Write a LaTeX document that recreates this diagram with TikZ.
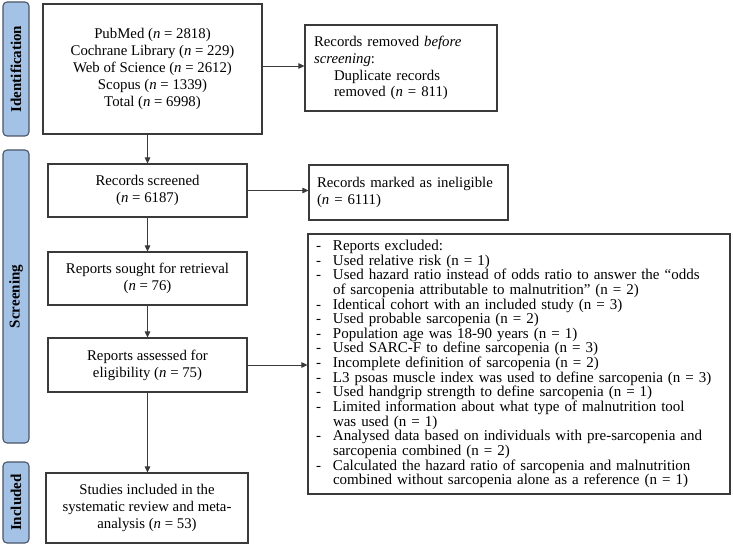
\documentclass[tikz,border=0pt]{standalone}
\usepackage{fontspec}
\setmainfont{Liberation Serif}
\usetikzlibrary{arrows.meta}
\definecolor{boxgray}{HTML}{3A3A3A}
\definecolor{phaseblue}{HTML}{A4C2E6}
\definecolor{phaseline}{HTML}{4A5568}
\begin{document}
\begin{tikzpicture}[x=1pt,y=-1pt,
  box/.style={draw=boxgray, line width=1.1pt, fill=white, inner sep=0pt, align=center,
    font=\fontsize{14.8}{16.8}\selectfont},
  phase/.style={draw=phaseline, line width=1.1pt, fill=phaseblue, rounded corners=4pt,
    minimum width=26pt, inner sep=0pt, rotate=90, font=\fontsize{15}{17}\selectfont\bfseries},
  arr/.style={draw=boxgray, line width=0.9pt, -{Triangle[length=6pt,width=5.5pt]}}]
\useasboundingbox (0,0) rectangle (733,545);
\fill[white] (0,0) rectangle (733,545);
% phases
\node[phase, minimum width=134pt, minimum height=26pt] (pid) at (16,69) {Identification};
\node[phase, minimum width=293pt, minimum height=26pt] (psc) at (16,296.5) {Screening};
\node[phase, minimum width=81pt, minimum height=26pt] (pin) at (16,502.5) {Included};
% boxes
\node[box, minimum width=219pt, minimum height=130pt, font=\fontsize{14.8}{17}\selectfont] (top) at (152.5,69)
  {PubMed (\textit{n} = 2818)\\Cochrane Library (\textit{n} = 229)\\Web of Science (\textit{n} = 2612)\\Scopus (\textit{n} = 1339)\\Total (\textit{n} = 6998)};
\node[box, minimum width=192pt, minimum height=86pt, text width=174pt, align=left] (rem) at (401,68)
  {Records removed \textit{before}\\\textit{screening}:\\\hspace*{20pt}Duplicate records\\\hspace*{20pt}removed (\textit{n} = 811)};
\node[box, minimum width=199pt, minimum height=53pt] (scr) at (147.5,190.5)
  {Records screened\\(\textit{n} = 6187)};
\node[box, minimum width=199pt, minimum height=55pt, text width=183pt, align=left] (inel) at (408.5,192.5)
  {Records marked as ineligible\\(\textit{n} = 6111)};
\node[box, minimum width=199pt, minimum height=53pt] (sou) at (147.5,278.5)
  {Reports sought for retrieval\\(\textit{n} = 76)};
\node[box, minimum width=199pt, minimum height=54pt] (ass) at (147.5,365)
  {Reports assessed for\\eligibility (\textit{n} = 75)};
\node[box, minimum width=422pt, minimum height=260pt, text width=406pt, align=left,
  font=\fontsize{15}{14.65}\selectfont] (exc) at (519,364)
  {\makebox[17pt][l]{-}Reports excluded:\\
   \makebox[17pt][l]{-}Used relative risk (n = 1)\\
   \makebox[17pt][l]{-}Used hazard ratio instead of odds ratio to answer the ``odds\\
   \hspace*{17pt}of sarcopenia attributable to malnutrition'' (n = 2)\\
   \makebox[17pt][l]{-}Identical cohort with an included study (n = 3)\\
   \makebox[17pt][l]{-}Used probable sarcopenia (n = 2)\\
   \makebox[17pt][l]{-}Population age was 18-90 years (n = 1)\\
   \makebox[17pt][l]{-}Used SARC-F to define sarcopenia (n = 3)\\
   \makebox[17pt][l]{-}Incomplete definition of sarcopenia (n = 2)\\
   \makebox[17pt][l]{-}L3 psoas muscle index was used to define sarcopenia (n = 3)\\
   \makebox[17pt][l]{-}Used handgrip strength to define sarcopenia (n = 1)\\
   \makebox[17pt][l]{-}Limited information about what type of malnutrition tool\\
   \hspace*{17pt}was used (n = 1)\\
   \makebox[17pt][l]{-}Analysed data based on individuals with pre-sarcopenia and\\
   \hspace*{17pt}sarcopenia combined (n = 2)\\
   \makebox[17pt][l]{-}Calculated the hazard ratio of sarcopenia and malnutrition\\
   \hspace*{17pt}combined without sarcopenia alone as a reference (n = 1)};
\node[box, minimum width=202pt, minimum height=70pt] (inc) at (147,508)
  {Studies included in the\\systematic review and meta-\\analysis (\textit{n} = 53)};
% arrows
\draw[arr] ([yshift=3pt]top.east) -- ([yshift=3pt]top.east -| rem.west);
\draw[arr] (scr.north |- top.south) -- (scr.north);
\draw[arr] (scr.east) -- (scr.east -| inel.west);
\draw[arr] (scr.south) -- (sou.north);
\draw[arr] (sou.south) -- (ass.north);
\draw[arr] (ass.east) -- (ass.east -| exc.west);
\draw[arr] (ass.south) -- (ass.south |- inc.north);
\end{tikzpicture}
\end{document}
